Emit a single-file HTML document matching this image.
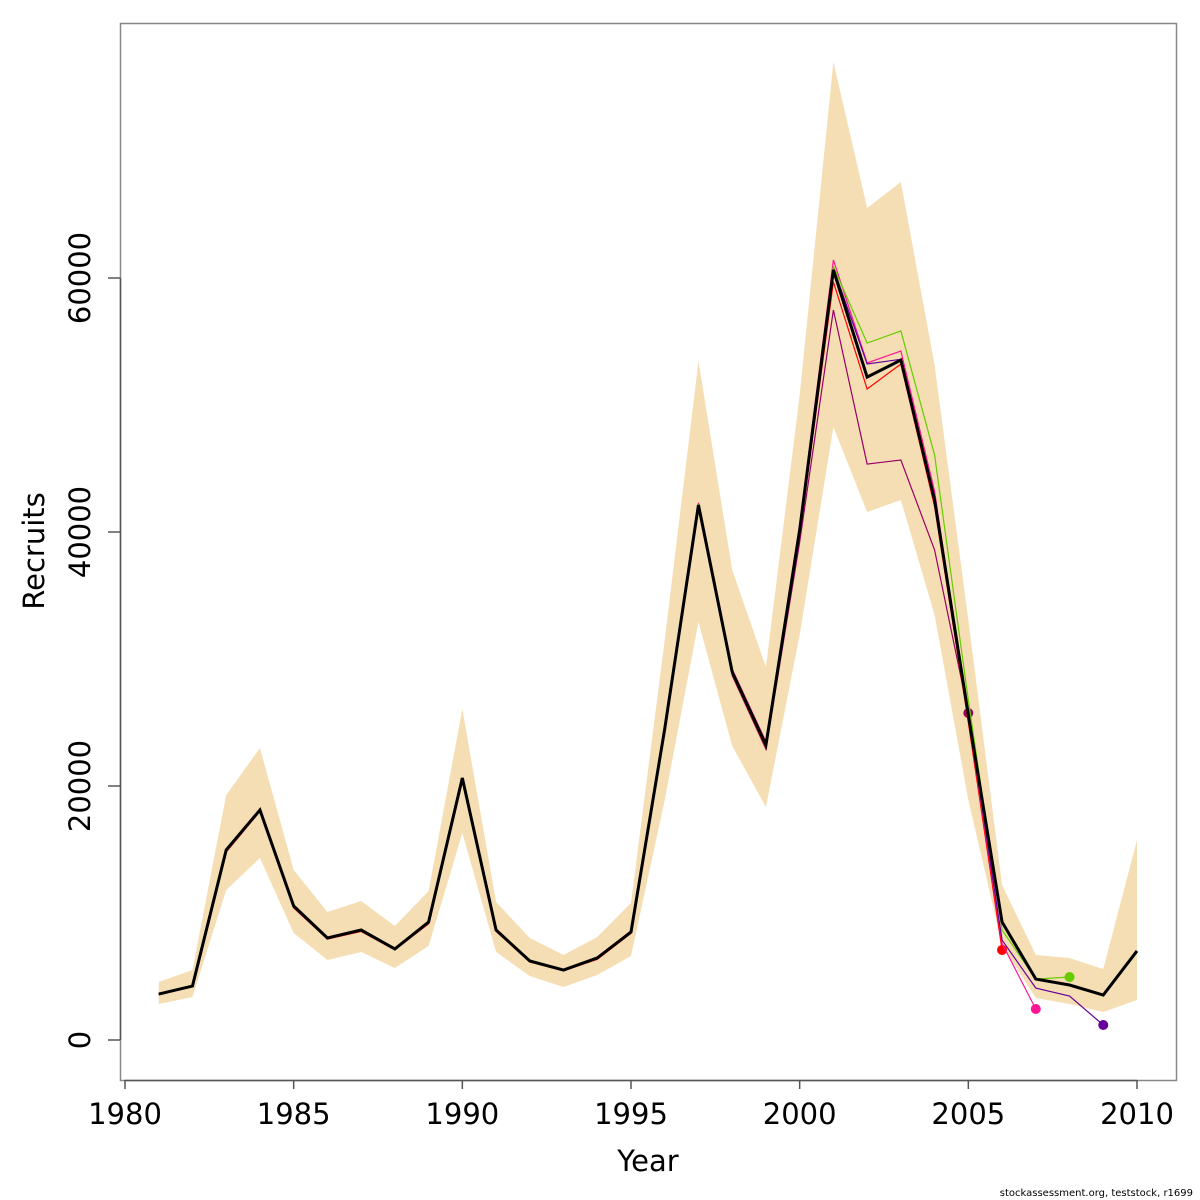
<!DOCTYPE html>
<html><head><meta charset="utf-8"><style>
html,body{margin:0;padding:0;background:#fff;}
svg{display:block;font-family:"DejaVu Sans","Liberation Sans",sans-serif;}
</style></head><body>
<svg id="chart" width="1200" height="1200" viewBox="0 0 1200 1200" xmlns="http://www.w3.org/2000/svg">
<rect x="120.5" y="23.5" width="1056" height="1057" fill="none" stroke="#888" stroke-width="1.5"/>
<g id="band"></g><g id="lines"></g><g id="axes"></g>
<text x="648" y="1171" font-size="29" text-anchor="middle">Year</text>
<text transform="translate(44,551) rotate(-90)" font-size="29" text-anchor="middle">Recruits</text>
<text x="1193" y="1196" font-size="10" text-anchor="end">stockassessment.org, teststock, r1699</text>
</svg>
<script>
const years=[1981,1982,1983,1984,1985,1986,1987,1988,1989,1990,1991,1992,1993,1994,1995,1996,1997,1998,1999,2000,2001,2002,2003,2004,2005,2006,2007,2008,2009,2010];
const estimate=[3620,4250,14960,18110,10550,8030,8660,7170,9290,20630,8660,6220,5510,6460,8500,24500,42130,28980,23230,40160,60630,52200,53540,42520,25600,9290,4800,4330,3540,7010];
const upper=[4570,5510,19290,22990,13390,10080,10940,8980,11730,26060,10870,8030,6690,8110,10790,31500,53460,37010,29370,50790,77010,65510,67560,53150,33070,12200,6690,6460,5590,15750];
const lower=[2830,3390,11810,14330,8430,6300,6930,5670,7400,16300,6930,5040,4170,5120,6610,18900,32910,23150,18350,31890,48270,41570,42520,33460,18900,7480,3310,2830,2200,3150];
const retro1=[3620,4250,14960,18110,10550,8030,8660,7170,9290,20630,8660,6220,5510,6460,8500,24600,42200,29100,23400,40400,60900,54880,55830,46060,26770,8660,4800,4960];
const retro2=[3620,4250,14960,18110,10550,8030,8660,7170,9290,20630,8660,6220,5510,6460,8500,24500,42100,29000,23300,40200,60800,53230,53600,42800,25600,7870,4090,3460,1180];
const retro3=[3600,4230,14900,18050,10500,8000,8620,7150,9250,20600,8620,6200,5500,6500,8600,24700,42300,29200,23500,40600,61420,53310,54250,43200,25300,7600,2440];
const retro4=[3580,4200,14800,18000,10400,7950,8550,7100,9150,20500,8550,6150,5450,6350,8400,24300,41900,28800,23000,39800,59690,51260,53230,42000,25000,7090];
const retro5=[3600,4230,14900,18050,10480,8000,8620,7150,9250,20600,8600,6200,5480,6420,8450,24200,41800,28700,22900,39200,57480,45350,45670,38580,25750];
const xTicks=[1980,1985,1990,1995,2000,2005,2010];
const yTicks=[0,20000,40000,60000];
const yTickLabels=["0","20000","40000","60000"];
const X=y=>125+(y-1980)*(1012/30);
const Y=v=>1040-v*(762/60000);
const NS="http://www.w3.org/2000/svg";
function mk(tag,attrs,parent){const e=document.createElementNS(NS,tag);for(const k in attrs)e.setAttribute(k,attrs[k]);document.getElementById(parent).appendChild(e);return e;}
// band
let pts=years.map((y,i)=>X(y)+","+Y(upper[i]));
for(let i=years.length-1;i>=0;i--)pts.push(X(years[i])+","+Y(lower[i]));
const band=mk("polygon",{points:pts.join(" "),fill:"#F5DEB3",stroke:"none"},"band");


const series=[
 {d:retro5,c:"#990066",n:"retro-2005"},
 {d:retro4,c:"#FF0000",n:"retro-2006"},
 {d:retro3,c:"#FF1493",n:"retro-2007"},
 {d:retro2,c:"#660099",n:"retro-2009"},
 {d:retro1,c:"#66CC00",n:"retro-2008"}];
series.forEach(s=>{
 const p=mk("polyline",{points:s.d.map((v,i)=>X(years[i])+","+Y(v)).join(" "),fill:"none",stroke:s.c,"stroke-width":1.2},"lines");
 
 
 const k=s.d.length-1;
 const c=mk("circle",{cx:X(years[k]),cy:Y(s.d[k]),r:5,fill:s.c},"lines");
 
 
});
const main=mk("polyline",{points:estimate.map((v,i)=>X(years[i])+","+Y(v)).join(" "),fill:"none",stroke:"#000","stroke-width":3,"stroke-linejoin":"miter"},"lines");


// axes
const xl=mk("line",{x1:X(1980),x2:X(2010),y1:1080.5,y2:1080.5,stroke:"#555","stroke-width":1.5},"axes");


xTicks.forEach(t=>{
 const l=mk("line",{x1:X(t),x2:X(t),y1:1080,y2:1089,stroke:"#555","stroke-width":1.5},"axes");
 
 
 const tx=mk("text",{x:X(t),y:1124,"font-size":29,"text-anchor":"middle"},"axes");
 tx.textContent=t;
 
 
});
const yl=mk("line",{x1:120.5,x2:120.5,y1:Y(60000),y2:Y(0),stroke:"#555","stroke-width":1.5},"axes");


yTicks.forEach((t,i)=>{
 const l=mk("line",{x1:108,x2:120,y1:Y(t),y2:Y(t),stroke:"#555","stroke-width":1.5},"axes");
 
 
 const tx=mk("text",{transform:"translate(90,"+Y(t)+") rotate(-90)","font-size":29,"text-anchor":"middle"},"axes");
 tx.textContent=yTickLabels[i];
 
 
});
</script>
</body></html>
